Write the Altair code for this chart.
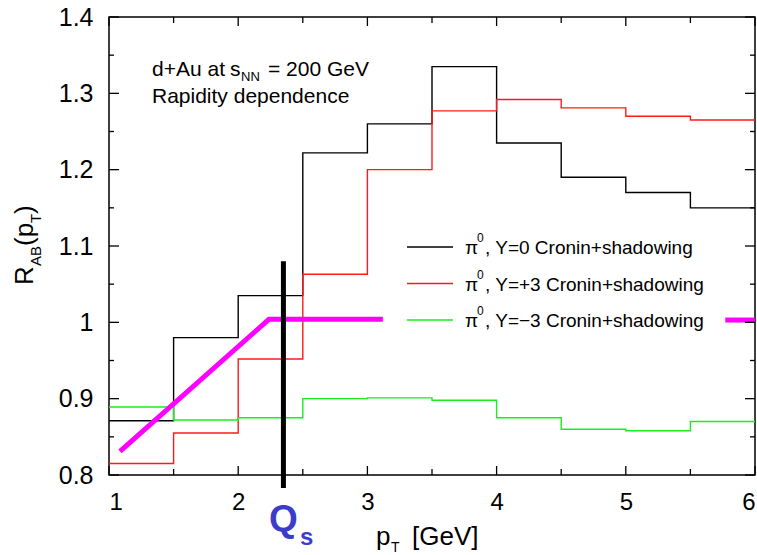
import altair as alt
import pandas as pd

# ---------------- data ----------------
bin_edges = [1.0, 1.5, 2.0, 2.5, 3.0, 3.5, 4.0, 4.5, 5.0, 5.5, 6.0]
r_y0 = [0.871, 0.980, 1.035, 1.222, 1.260, 1.335, 1.235, 1.190, 1.170, 1.150]
r_yp3 = [0.815, 0.855, 0.952, 1.063, 1.200, 1.277, 1.292, 1.281, 1.270, 1.265]
r_ym3 = [0.889, 0.872, 0.875, 0.900, 0.901, 0.898, 0.875, 0.860, 0.858, 0.870]
series_names = ["Y=0", "Y=+3", "Y=-3"]
series_colors = ["#000000", "#ff1a1a", "#1aee1a"]
legend_texts = [", Y=0 Cronin+shadowing", ", Y=+3 Cronin+shadowing", ", Y=\u22123 Cronin+shadowing"]

mag_x1 = [1.085, 2.238, 3.12]
mag_y1 = [0.831, 1.004, 1.004]
mag_x2 = [5.77, 6.0]
mag_y2 = [1.003, 1.003]

qs_x = 2.35
qs_y = [0.783, 1.080]

x_major = [1, 2, 3, 4, 5, 6]
x_minor = [1.5, 2.5, 3.5, 4.5, 5.5]
y_major = [0.8, 0.9, 1.0, 1.1, 1.2, 1.3, 1.4]
y_minor = [0.85, 0.95, 1.05, 1.15, 1.25, 1.35]

W, H = 646, 458
FONT = "Liberation Sans"

# ---------------- scales ----------------
xs = alt.Scale(domain=[1, 6], nice=False, zero=False)
ys = alt.Scale(domain=[0.8, 1.4], nice=False, zero=False)

rows = []
for name, vals in zip(series_names, [r_y0, r_yp3, r_ym3]):
    full = vals + [vals[-1]]
    for e, v in zip(bin_edges, full):
        rows.append({"pt": e, "r": v, "s": name})
hist = pd.DataFrame(rows)

base_layers = []

# axes (labels only; ticks drawn inward separately)
axis_chart = alt.Chart(pd.DataFrame({"pt": [1.0], "r": [0.8]})).mark_point(opacity=0).encode(
    x=alt.X("pt:Q", scale=xs, title=None,
            axis=alt.Axis(values=x_major, format="d", tickSize=0, domain=False, grid=False,
                          labelFontSize=24, labelFont=FONT, labelColor="black", labelPadding=15)),
    y=alt.Y("r:Q", scale=ys, title=None,
            axis=alt.Axis(values=y_major, format="~g", tickSize=0, domain=False, grid=False,
                          labelFontSize=25, labelFont=FONT, labelColor="black", labelPadding=16)),
)
base_layers.append(axis_chart)

# histograms
for name, col in zip(series_names, series_colors):
    base_layers.append(
        alt.Chart(hist[hist.s == name]).mark_line(interpolate="step-after", color=col, strokeWidth=1.4)
        .encode(x=alt.X("pt:Q", scale=xs), y=alt.Y("r:Q", scale=ys))
    )

# magenta lines
mag = pd.DataFrame({"pt": mag_x1 + mag_x2, "r": mag_y1 + mag_y2,
                    "g": ["a"] * len(mag_x1) + ["b"] * len(mag_x2)})
base_layers.append(
    alt.Chart(mag).mark_line(color="#ff00ff", strokeWidth=5, strokeCap="butt")
    .encode(x=alt.X("pt:Q", scale=xs), y=alt.Y("r:Q", scale=ys), detail="g:N")
)

# Qs vertical line
base_layers.append(
    alt.Chart(pd.DataFrame({"pt": [qs_x], "r": [qs_y[0]], "r2": [qs_y[1]]}))
    .mark_rule(color="black", strokeWidth=5)
    .encode(x=alt.X("pt:Q", scale=xs), y=alt.Y("r:Q", scale=ys), y2="r2:Q")
)

# inward ticks
def xticks(vals, length):
    d = pd.DataFrame({"pt": vals})
    b = alt.Chart(d).mark_rule(color="black", strokeWidth=1.3)
    return [b.encode(x=alt.X("pt:Q", scale=xs), y=alt.value(H), y2=alt.value(H - length)),
            b.encode(x=alt.X("pt:Q", scale=xs), y=alt.value(0), y2=alt.value(length))]

def yticks(vals, length):
    d = pd.DataFrame({"r": vals})
    b = alt.Chart(d).mark_rule(color="black", strokeWidth=1.3)
    return [b.encode(y=alt.Y("r:Q", scale=ys), x=alt.value(0), x2=alt.value(length)),
            b.encode(y=alt.Y("r:Q", scale=ys), x=alt.value(W), x2=alt.value(W - length))]

base_layers += xticks(x_major, 9) + xticks(x_minor, 6) + yticks(y_major, 10) + yticks(y_minor, 5)

# text helper
def txt(s, x, y, size, angle=0, weight="normal", color="black", align="left"):
    return alt.Chart(pd.DataFrame({"t": [s]})).mark_text(
        text=s, font=FONT, fontSize=size, angle=angle, fontWeight=weight, color=color,
        align=align, baseline="alphabetic"
    ).encode(x=alt.value(x), y=alt.value(y))

# annotation
base_layers += [
    txt("d+Au at", 43, 59, 21),
    txt("s", 121, 59, 21),
    txt("NN", 132, 64, 13),
    txt("= 200 GeV", 159, 59, 21),
    txt("Rapidity dependence", 43, 86, 21),
]

# legend
leg_y = [230, 266.5, 303]
for ly, col, lt in zip(leg_y, series_colors, legend_texts):
    base_layers.append(
        alt.Chart(pd.DataFrame({"a": [0]})).mark_rule(color=col, strokeWidth=1.4)
        .encode(x=alt.value(298), x2=alt.value(344), y=alt.value(ly))
    )
    base_layers += [
        txt("\u03c0", 356, ly + 7, 19),
        txt("0", 368, ly - 5, 12),
        txt(lt, 376, ly + 7, 19),
    ]

# x title  p_T [GeV]
base_layers += [
    txt("p", 267, 528, 26),
    txt("T", 282, 535, 14),
    txt("[GeV]", 303, 528, 26),
]

# Qs label
base_layers += [
    txt("Q", 160, 514, 37, weight="bold", color="#3b3bcc"),
    txt("s", 191, 528, 24, weight="bold", color="#3b3bcc"),
]

# y title  R_AB(p_T), rotated
base_layers += [
    txt("R", -76, 268, 26, angle=270),
    txt("AB", -68, 249, 15, angle=270),
    txt("(p", -76, 229, 26, angle=270),
    txt("T", -68, 206, 15, angle=270),
    txt(")", -76, 197, 26, angle=270),
]

chart = alt.layer(*base_layers).properties(
    width=W, height=H,
    autosize=alt.AutoSizeParams(type="none"),
    padding={"left": 109, "top": 17, "right": 2, "bottom": 80},
    background="white",
).configure_view(stroke="black", strokeWidth=1.5)

chart.save("out.html", embed_options={"renderer": "svg", "actions": False})
